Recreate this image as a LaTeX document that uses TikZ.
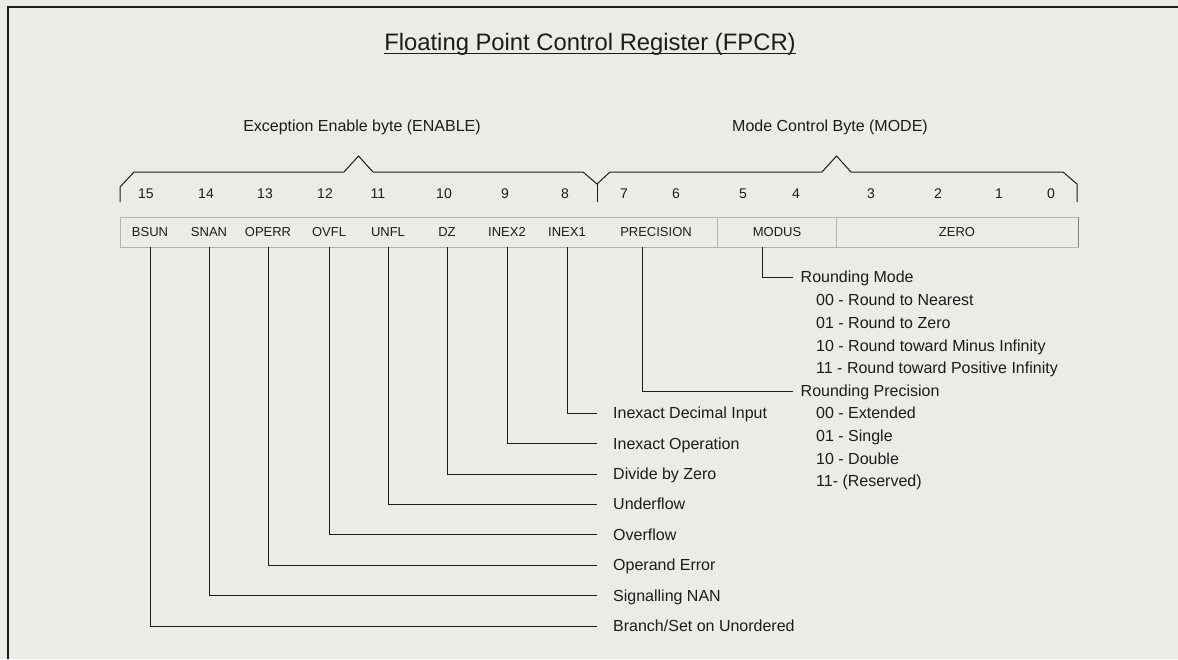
\documentclass[tikz,border=0pt]{standalone}
\usepackage{fontspec}
\setmainfont{Liberation Sans}
\definecolor{bg}{RGB}{236,235,230}
\definecolor{ink}{RGB}{28,28,28}
\definecolor{faint}{RGB}{180,180,175}
\begin{document}
\begin{tikzpicture}[x=1pt,y=-1pt,
  every node/.style={text=ink, inner sep=0pt},
  lbl/.style={anchor=west, inner xsep=16pt, inner ysep=0pt, text height=11.5pt, text depth=0pt, font=\fontsize{16}{19}\selectfont},
  rlbl/.style={anchor=west, inner xsep=7.5pt, inner ysep=0pt, text height=11.5pt, text depth=0pt, font=\fontsize{16}{19}\selectfont},
  opt/.style={anchor=west, text height=11.5pt, text depth=0pt, font=\fontsize{16}{19}\selectfont},
  head/.style={text height=11.5pt, text depth=0pt, font=\fontsize{16}{19}\selectfont},
  field/.style={minimum height=30pt, text height=9.3pt, text depth=0pt, font=\fontsize{13}{15}\selectfont},
  bitnum/.style={text height=10pt, text depth=0pt, font=\fontsize{14}{16}\selectfont},
  conn/.style={draw=ink, line width=0.9pt},
  brace/.style={draw=ink, line width=1pt, line join=miter},
]
\useasboundingbox (0,0) rectangle (1178,659);
\fill[bg] (0,0) rectangle (1178,659);
% frame
\draw[ink, line width=2pt] (8,659) -- (8,7) -- (1178,7);

% title
\node[anchor=base, font=\fontsize{23.8}{28}\selectfont, text height=17pt, text depth=0pt] (title) at (590,50) {Floating Point Control Register (FPCR)};
\draw[ink, line width=1.1pt] ([yshift=-3pt]title.south west) -- ([yshift=-3pt]title.south east);

% headers
\node[head] (hexc) at (362,126) {Exception Enable byte (ENABLE)};
\node[head] (hmode) at (830,126) {Mode Control Byte (MODE)};

% braces
\draw[brace] (120,202) -- (120,187) -- (134,172) -- (344,172) -- (358.5,156) -- (373,172) -- (583,172) -- (597,184) -- (610,172) -- (822,172) -- (836.5,156) -- (851,172) -- (1063,172) -- (1077,184) -- (1077,202);
\draw[brace] (597,184) -- (597,202);

% bit numbers
\foreach \n/\x in {15/146,14/206,13/265,12/325,11/378,10/444,9/505,8/565,7/624,6/676,5/743,4/796,3/871,2/938,1/999,0/1051}
  \node[bitnum] (b\n) at (\x,193) {\n};

% register row
\draw[faint, line width=0.8pt] (120,217) rectangle (1078,247);
\draw[faint, line width=0.8pt] (717,217) -- (717,247) (836,217) -- (836,247);
\draw[black!50, line width=0.8pt] (1078,217) -- (1078,247);

\node[field] (bsun) at (150,232) {BSUN};
\node[field] (snan) at (209,232) {SNAN};
\node[field] (operr) at (268,232) {OPERR};
\node[field] (ovfl) at (329,232) {OVFL};
\node[field] (unfl) at (388,232) {UNFL};
\node[field] (dz) at (447,232) {DZ};
\node[field] (inex2) at (507,232) {INEX2};
\node[field] (inex1) at (567,232) {INEX1};
\node[field] (prec) at (642,232) {\hspace{28pt}PRECISION};
\node[field] (modus) at (762,232) {\hspace{30pt}MODUS};
\node[field] (zero) at (957,232) {ZERO};

% exception labels
\node[lbl] (l1) at (597,413) {Inexact Decimal Input};
\node[lbl] (l2) at (597,443.5) {Inexact Operation};
\node[lbl] (l3) at (597,474) {Divide by Zero};
\node[lbl] (l4) at (597,504) {Underflow};
\node[lbl] (l5) at (597,534.5) {Overflow};
\node[lbl] (l6) at (597,565) {Operand Error};
\node[lbl] (l7) at (597,595.5) {Signalling NAN};
\node[lbl] (l8) at (597,626) {Branch/Set on Unordered};

\draw[conn] (inex1.south) |- (l1.west);
\draw[conn] (inex2.south) |- (l2.west);
\draw[conn] (dz.south) |- (l3.west);
\draw[conn] (unfl.south) |- (l4.west);
\draw[conn] (ovfl.south) |- (l5.west);
\draw[conn] (operr.south) |- (l6.west);
\draw[conn] (snan.south) |- (l7.west);
\draw[conn] (bsun.south) |- (l8.west);

% rounding
\node[rlbl] (rmode) at (793,277) {Rounding Mode};
\node[opt] (m0) at (816,300) {00 - Round to Nearest};
\node[opt] (m1) at (816,323) {01 - Round to Zero};
\node[opt] (m2) at (816,345.5) {10 - Round toward Minus Infinity};
\node[opt] (m3) at (816,368) {11 - Round toward Positive Infinity};
\node[rlbl] (rprec) at (793,391) {Rounding Precision};
\node[opt] (p0) at (816,413) {00 - Extended};
\node[opt] (p1) at (816,436) {01 - Single};
\node[opt] (p2) at (816,458.5) {10 - Double};
\node[opt] (p3) at (816,481) {11- (Reserved)};

\draw[conn] (modus.south) |- (rmode.west);
\draw[conn] (prec.south) |- (rprec.west);
\end{tikzpicture}
\end{document}
